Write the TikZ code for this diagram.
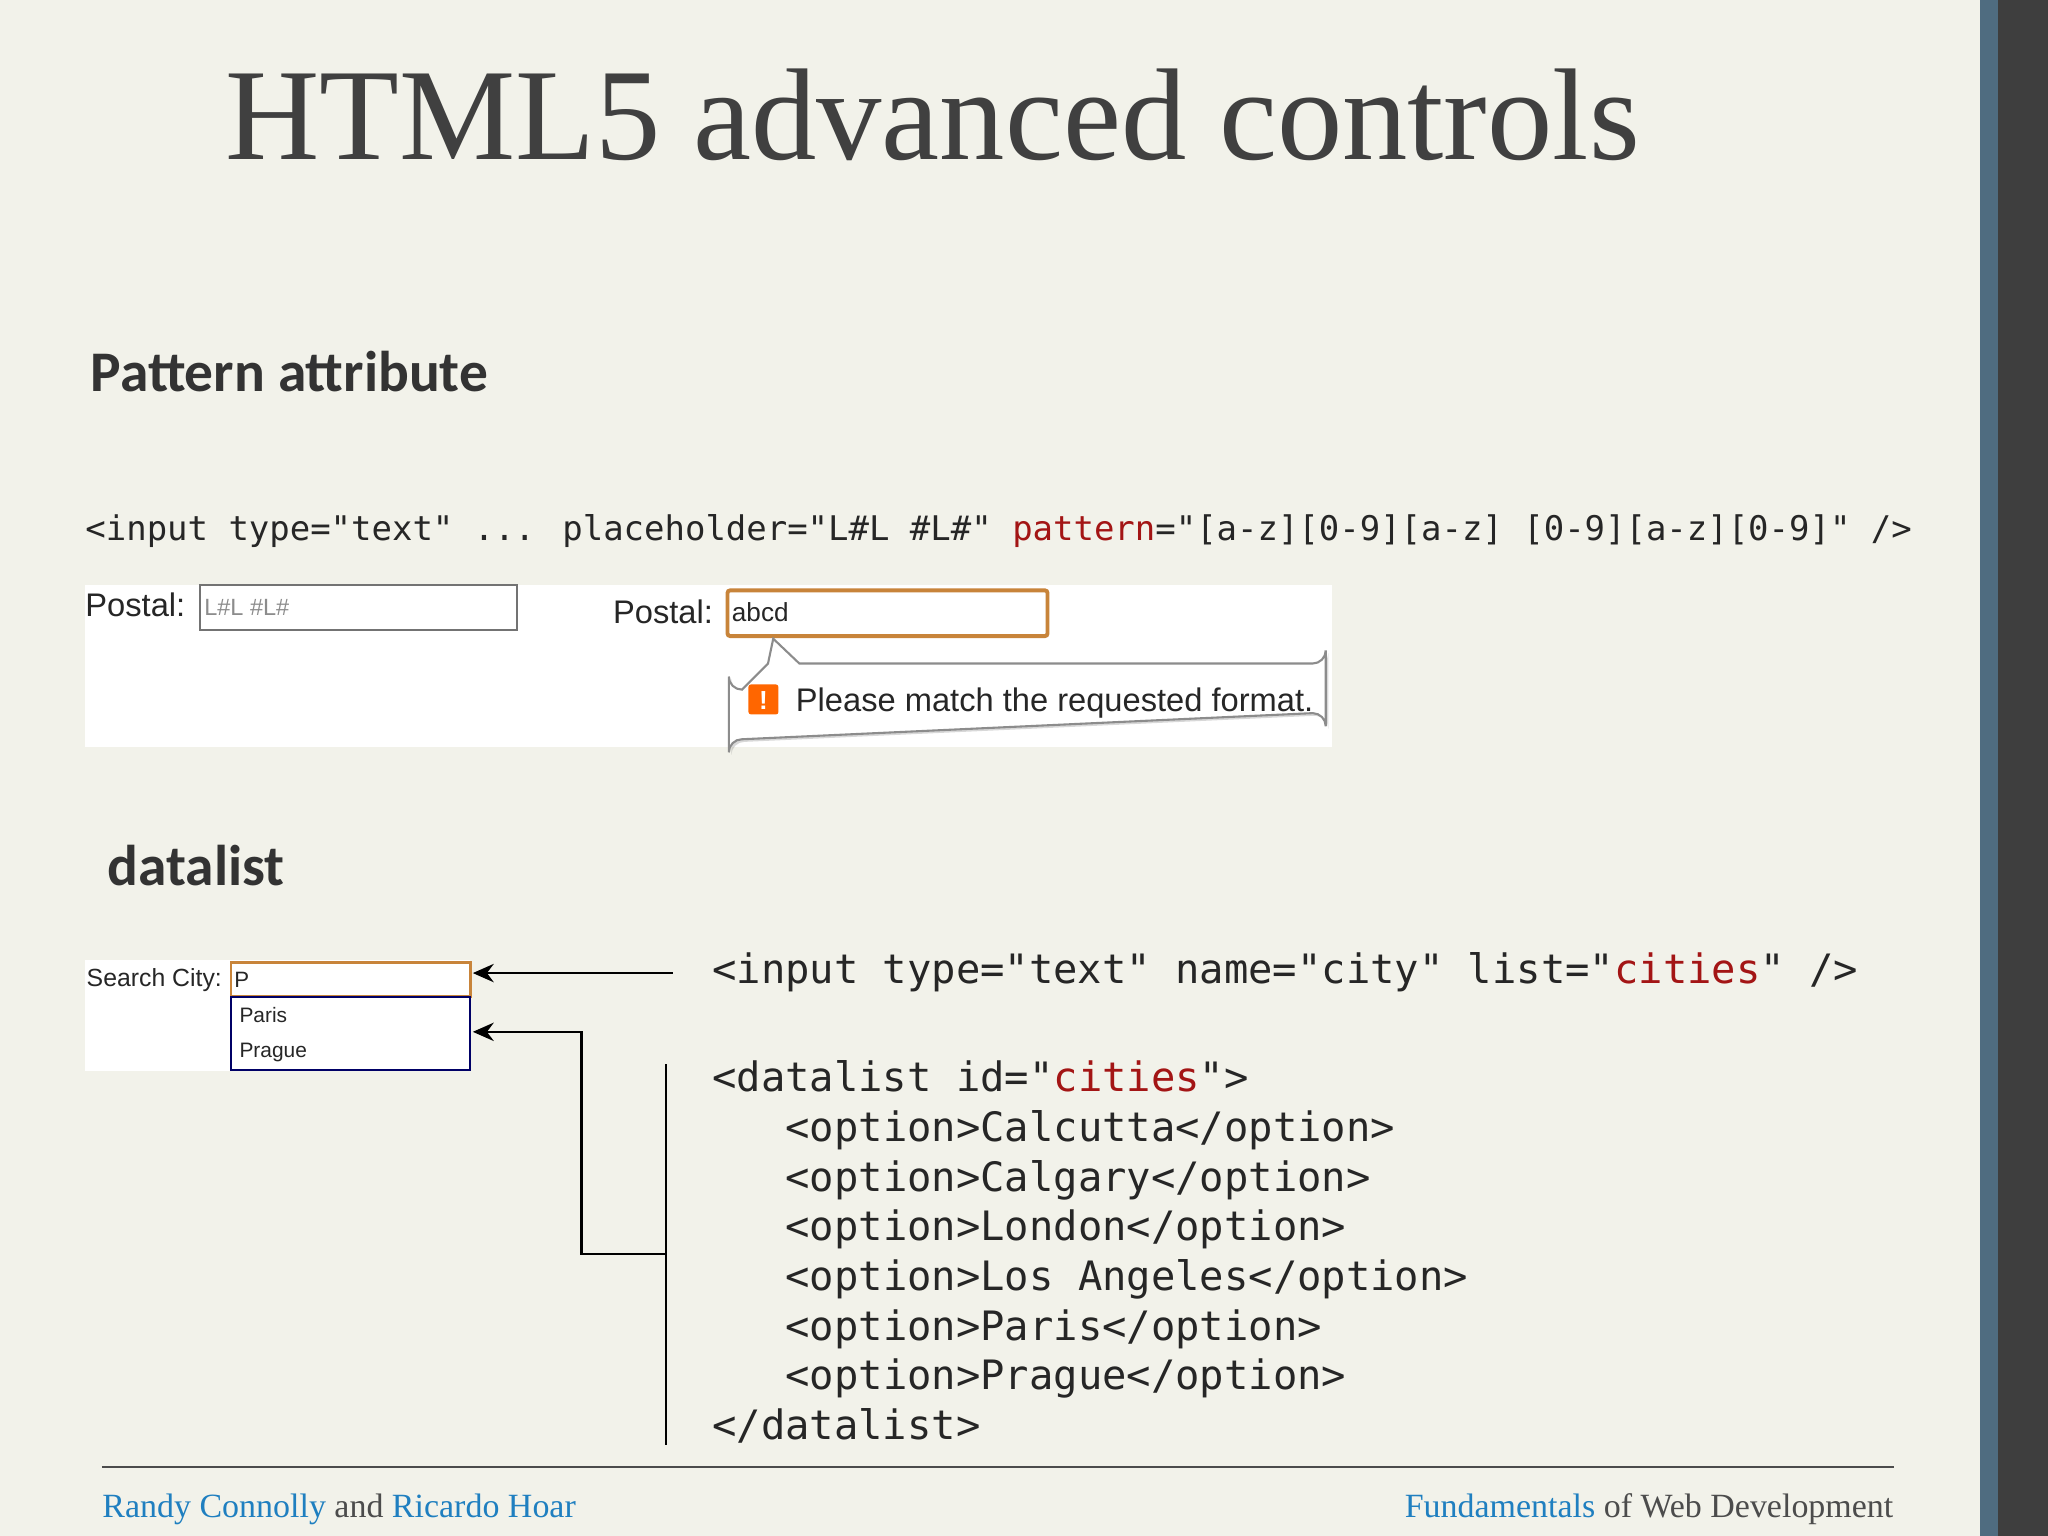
\documentclass[tikz,border=0pt]{standalone}
\usepackage{fontspec}
\setmainfont{Liberation Serif}
\newfontfamily\hd{Carlito}
\newfontfamily\cd{DejaVu Sans Mono}
\newfontfamily\ui{Liberation Sans}
\usetikzlibrary{arrows.meta,shadows}
\definecolor{bg}{HTML}{F2F2EA}
\definecolor{codered}{HTML}{A31515}
\definecolor{linkblue}{HTML}{1F7FC0}
\definecolor{barblue}{HTML}{4F6C80}
\definecolor{bardark}{HTML}{3E3E3E}
\definecolor{orng}{HTML}{C8843A}
\tikzset{
 code/.style={anchor=base west,inner sep=0,font=\cd\fontsize{13}{15}\selectfont,text=black!85},
 code2/.style={anchor=base west,inner sep=0,font=\cd\fontsize{15.5}{18}\selectfont,text=black!85},
 conn/.style={line width=1pt,black},
 arr/.style={conn,-{Stealth[length=8pt,width=7pt]}},
 uitxt/.style={anchor=base west,inner sep=0,font=\ui\fontsize{11}{13}\selectfont,text=black!85},
}
\begin{document}
\begin{tikzpicture}[x=0.5pt,y=-0.5pt]
\fill[bg] (0,0) rectangle (1568,1176);
\useasboundingbox (0,0) rectangle (1568,1176);
\fill[barblue] (1516,0) rectangle (1530,1176);
\fill[bardark] (1530,0) rectangle (1568,1176);
\node[anchor=base west,inner sep=0,font=\fontsize{50}{56}\selectfont,text=black!75] (title) at (172,122) {HTML5 advanced controls};
\node[anchor=base west,inner sep=0,font=\hd\bfseries\fontsize{22}{26}\selectfont,text=black!80] (h1) at (69,300) {Pattern attribute};
\node[code] (c1) at (65,414) {<input type="text" ... placeholder="L\#L \#L\#" \textcolor{codered}{pattern}="[a-z][0-9][a-z] [0-9][a-z][0-9]"  />};
% panel 1
\fill[white] (65,448) rectangle (1020,572);
\node[uitxt,font=\ui\fontsize{12.5}{14}\selectfont] (p1) at (65,472) {Postal:};
\draw[black!55,line width=0.8pt] (153,448) rectangle (396,482);
\node[uitxt,text=black!45,font=\ui\fontsize{9}{11}\selectfont] (ph) at (156,471) {L\#L \#L\#};
\node[uitxt,font=\ui\fontsize{12.5}{14}\selectfont] (p2) at (469,477) {Postal:};
\draw[orng,line width=1.5pt,rounded corners=1pt] (557,452) rectangle (802,487);
\node[uitxt,font=\ui\fontsize{10}{12}\selectfont] (abcd) at (560,476) {abcd};
\draw[black!45,line width=0.8pt,fill=white,drop shadow={opacity=0.3,shadow xshift=1pt,shadow yshift=-1pt}]
 (592,489) -- (612,508) -- (1005,508) arc(90:0:10) -- (1015,556) arc(0:-90:10) -- (568,566) arc(270:180:10) -- (558,518) arc(180:90:10) -- (588,508) -- cycle;
\fill[orange!80!red,rounded corners=1pt] (573,524) rectangle (596,547);
\node[font=\ui\bfseries\fontsize{10}{10}\selectfont,text=white,inner sep=0] (ex) at (584.5,536) {!};
\node[uitxt,font=\ui\fontsize{12.5}{14}\selectfont] (msg) at (609,545) {Please match the requested format.};
% datalist
\node[anchor=base west,inner sep=0,font=\hd\bfseries\fontsize{22}{26}\selectfont,text=black!80] (h2) at (82,678) {datalist};
\fill[white] (65,735) rectangle (360,820);
\node[uitxt,font=\ui\fontsize{9.5}{11}\selectfont] (sc) at (66,755) {Search City:};
\draw[orng,line width=1pt] (177,737) rectangle (360,763);
\node[uitxt,font=\ui\fontsize{8.5}{10}\selectfont] (pp) at (179,756) {P};
\draw[blue!40!black,line width=0.8pt] (177,763) rectangle (360,819);
\node[uitxt,font=\ui\fontsize{8}{10}\selectfont] (paris) at (183,783) {Paris};
\node[uitxt,font=\ui\fontsize{8}{10}\selectfont] (prague) at (183,810) {Prague};
\coordinate (inp) at (362,745);
\coordinate (lst) at (362,790);
\node[code2] (d1) at (545,753) {<input type="text" name="city" list="\textcolor{codered}{cities}"  />};
\node[code2] (d2) at (545,836) {<datalist id="\textcolor{codered}{cities}">};
\node[code2] (d3) at (601,874) {<option>Calcutta</option>};
\node[code2] (d4) at (601,912) {<option>Calgary</option>};
\node[code2] (d5) at (601,950) {<option>London</option>};
\node[code2] (d6) at (601,988) {<option>Los Angeles</option>};
\node[code2] (d7) at (601,1026) {<option>Paris</option>};
\node[code2] (d8) at (601,1064) {<option>Prague</option>};
\node[code2] (d9) at (545,1102) {</datalist>};
\coordinate (a1) at (515,745);
\draw[arr] (a1) -- (inp);
\coordinate (vt) at (510,815);
\coordinate (vb) at (510,1106);
\coordinate (vm) at (510,960);
\draw[conn] (vt) -- (vb);
\draw[arr] (vm) -- (445,960) -- (445,790) -- (lst);
% footer
\coordinate (fl) at (78,1123);
\coordinate (fr) at (1450,1123);
\draw[black!70,line width=0.8pt] (fl) -- (fr);
\node[anchor=base west,inner sep=0,font=\fontsize{13}{15}\selectfont,text=black!70] (f1) at (78,1162) {\textcolor{linkblue}{Randy Connolly} and \textcolor{linkblue}{Ricardo Hoar}};
\node[anchor=base east,inner sep=0,font=\fontsize{13}{15}\selectfont,text=black!70] (f2) at (1450,1162) {\textcolor{linkblue}{Fundamentals} of Web Development};
\end{tikzpicture}
\end{document}
